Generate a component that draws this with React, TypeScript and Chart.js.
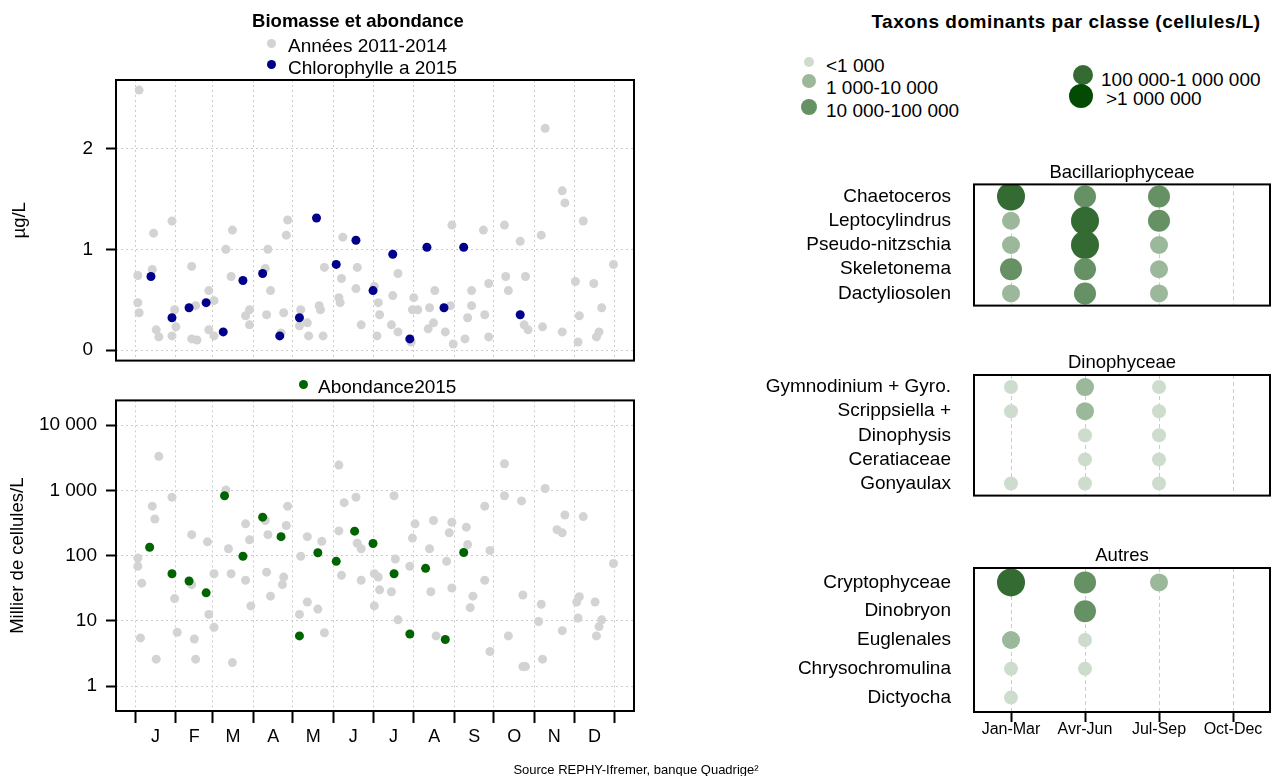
import React, { useEffect, useRef } from 'react';
import { Chart, registerables } from 'chart.js';

Chart.register(...registerables);

const FONT = '"Liberation Sans", Arial, Helvetica, sans-serif';
Chart.defaults.font.family = FONT;
Chart.defaults.color = '#000';

// ---------------- data ----------------
const MONTH_LABELS = ['J', 'F', 'M', 'A', 'M', 'J', 'J', 'A', 'S', 'O', 'N', 'D'];
const MONTH_STARTS = [1, 32, 60, 91, 121, 152, 182, 213, 244, 274, 305, 335, 366];
const MONTH_MIDS = [16.5, 46, 75.5, 106, 136.5, 167, 197.5, 228.5, 259, 289.5, 320, 350.5];

const BIOMASS_TICKS = [0, 1, 2];
const ABUND_TICKS = [1, 10, 100, 1000, 10000];

// [day of year, µg/L]
const CHLORO_2011_2014 = [
  [4, 2.58], [3, 0.74], [14, 0.8], [15, 1.16], [3, 0.47], [4, 0.37], [17, 0.2], [19, 0.13],
  [29, 1.28], [31, 0.4], [32, 0.23], [29, 0.14], [44, 0.83], [47, 0.44], [44, 0.11], [48, 0.1],
  [57, 0.59], [61, 0.49], [57, 0.2], [61, 0.14], [70, 1.0], [75, 1.19], [74, 0.73], [88, 0.4],
  [85, 0.34], [88, 0.25], [102, 1.0], [100, 0.81], [104, 0.59], [101, 0.35], [117, 1.29], [116, 1.14],
  [114, 0.37], [112, 0.17], [127, 0.4], [126, 0.24], [132, 0.27], [133, 0.14], [144, 0.14], [145, 0.82],
  [158, 0.71], [156, 0.52], [157, 0.47], [159, 1.12], [170, 0.82], [169, 0.61], [173, 0.25], [141, 0.44],
  [142, 0.4],
  [313, 2.2], [326, 1.58], [328, 1.46], [342, 1.28], [242, 1.24], [266, 1.19], [282, 1.24], [294, 1.08],
  [310, 1.14], [365, 0.85], [201, 0.76], [183, 0.63], [186, 0.47], [187, 0.35], [185, 0.14], [197, 0.54],
  [196, 0.25], [201, 0.18], [213, 0.52], [212, 0.4], [216, 0.4], [211, 0.08], [225, 0.42], [229, 0.59],
  [228, 0.27], [224, 0.21], [237, 0.18], [241, 0.44], [243, 0.06], [254, 0.32], [257, 0.59], [257, 0.44],
  [252, 0.11], [267, 0.35], [270, 0.66], [270, 0.13], [283, 0.73], [285, 0.59], [298, 0.73], [297, 0.25],
  [300, 0.2], [311, 0.23], [326, 0.18], [336, 0.68], [350, 0.66], [339, 0.34], [338, 0.08], [356, 0.42],
  [354, 0.18], [352, 0.13],
];

const CHLORO_2015 = [
  [13, 0.73], [29, 0.32], [42, 0.42], [55, 0.47], [68, 0.18], [83, 0.69], [98, 0.76], [111, 0.14],
  [126, 0.32], [139, 1.31], [154, 0.85], [169, 1.09], [182, 0.59], [197, 0.95], [210, 0.11], [223, 1.02],
  [236, 0.42], [251, 1.02], [294, 0.35],
];

// [day of year, milliers de cellules/L]
const ABUND_2011_2014 = [
  [19, 3330], [3, 92], [3, 69], [6, 38], [5, 5.5], [14, 575], [16, 365], [17, 2.6], [29, 790], [31, 22],
  [33, 6.7], [44, 210], [44, 36], [46, 5.3], [47, 2.6], [56, 163], [61, 53], [57, 12.6], [61, 8], [70, 1020],
  [72, 128], [74, 53], [75, 2.3], [85, 308], [88, 175], [85, 42], [89, 17], [100, 346], [102, 210], [101, 56],
  [104, 24], [117, 575], [116, 290], [114, 47], [113, 36], [132, 196], [127, 98], [132, 19.5], [126, 12.6],
  [143, 166], [140, 15.2], [145, 6.6], [156, 2450], [160, 650], [156, 240], [158, 50], [169, 790], [170, 155],
  [173, 128], [173, 42],
  [198, 830], [214, 308], [212, 186], [228, 346], [242, 325], [240, 224], [253, 274], [254, 148], [267, 575],
  [271, 120], [282, 2570], [282, 830], [295, 692], [313, 1070], [328, 420], [322, 251], [326, 224], [342, 398],
  [365, 76], [199, 89], [225, 128], [210, 69], [238, 82], [183, 53], [186, 47], [187, 30], [196, 28], [183, 17],
  [226, 28], [242, 32], [267, 42], [258, 24], [256, 16], [201, 10.4], [230, 5.9], [271, 3.4], [296, 25], [310, 18],
  [308, 9.8], [285, 5.9], [298, 2.0], [296, 2.0], [311, 2.6], [326, 7.1], [339, 23.5], [337, 19.5], [338, 11.1],
  [351, 19.5], [356, 10.4], [354, 8.2], [352, 5.9],
];

const ABUND_2015 = [
  [12, 135], [29, 53], [42, 41], [55, 27], [69, 830], [83, 98], [98, 390], [112, 196], [126, 5.9],
  [140, 111], [154, 82], [168, 238], [182, 154], [198, 53], [210, 6.3], [222, 64], [237, 5.2], [251, 112],
];

// Dominant taxa: abundance class per quarter (0 = none, 1..5 = class)
const QUARTERS = ['Jan-Mar', 'Avr-Jun', 'Jul-Sep', 'Oct-Dec'];
const CLASS_LABELS = ['<1 000', '1 000-10 000', '10 000-100 000', '100 000-1 000 000', '>1 000 000'];
const CLASS_COLORS = ['#cedccd', '#9bb89b', '#659165', '#336b33', '#034b03'];
const CLASS_RADII = [7, 9, 11, 14, 16];

const BACILLARIO_TAXA = ['Chaetoceros', 'Leptocylindrus', 'Pseudo-nitzschia', 'Skeletonema', 'Dactyliosolen'];
const BACILLARIO_CLASSES = [
  [4, 3, 3, 0],
  [2, 4, 3, 0],
  [2, 4, 2, 0],
  [3, 3, 2, 0],
  [2, 3, 2, 0],
];
const DINO_TAXA = ['Gymnodinium + Gyro.', 'Scrippsiella +', 'Dinophysis', 'Ceratiaceae', 'Gonyaulax'];
const DINO_CLASSES = [
  [1, 2, 1, 0],
  [1, 2, 1, 0],
  [0, 1, 1, 0],
  [0, 1, 1, 0],
  [1, 1, 1, 0],
];
const AUTRES_TAXA = ['Cryptophyceae', 'Dinobryon', 'Euglenales', 'Chrysochromulina', 'Dictyocha'];
const AUTRES_CLASSES = [
  [4, 3, 2, 0],
  [0, 3, 0, 0],
  [2, 1, 0, 0],
  [1, 1, 0, 0],
  [1, 0, 0, 0],
];

// ---------------- styles ----------------
const GRID = '#cccccc';
const GREY_PT = '#d3d3d3';
const BLUE_PT = '#00008b';
const GREEN_PT = '#006400';

const boxPlugin = {
  id: 'boxFrame',
  afterDatasetsDraw(chart: any) {
    const { ctx, chartArea: a } = chart;
    ctx.save();
    ctx.setLineDash([]);
    ctx.strokeStyle = '#000';
    ctx.lineWidth = 2;
    ctx.strokeRect(a.left, a.top, a.right - a.left, a.bottom - a.top);
    ctx.restore();
  },
};

const fmtThousands = (v: number) => String(v).replace(/\B(?=(\d{3})+(?!\d))/g, ' ');

function seasonalConfig(opts: {
  hist: number[][];
  current: number[][];
  currentColor: string;
  log: boolean;
  showX: boolean;
  padTop: number;
  xHeight: number;
  yTitle: string;
  yTitlePad: number;
  yLabelPad: number;
}) {
  const isStart = (v: any) => MONTH_STARTS.includes(v);
  const xTicks = opts.showX
    ? [...MONTH_STARTS, ...MONTH_MIDS].sort((a, b) => a - b)
    : MONTH_STARTS;
  const yTicks = opts.log ? ABUND_TICKS : BIOMASS_TICKS;
  return {
    type: 'scatter',
    data: {
      datasets: [
        {
          label: 'current',
          data: opts.current.map(([x, y]) => ({ x, y })),
          backgroundColor: opts.currentColor,
          pointRadius: 4.5,
          pointBorderWidth: 0,
          order: 0,
        },
        {
          label: 'hist',
          data: opts.hist.map(([x, y]) => ({ x, y })),
          backgroundColor: GREY_PT,
          pointRadius: 4.5,
          pointBorderWidth: 0,
          order: 1,
        },
      ],
    },
    options: {
      responsive: false,
      animation: false,
      events: [],
      layout: { autoPadding: false, padding: { top: opts.padTop, right: 6, left: 0, bottom: 0 } },
      plugins: { legend: { display: false }, tooltip: { enabled: false } },
      scales: {
        x: {
          type: 'linear',
          bounds: 'data',
          min: -13.6,
          max: 380.6,
          afterBuildTicks: (s: any) => {
            s.ticks = xTicks.map((v) => ({ value: v }));
          },
          afterFit: (s: any) => {
            s.height = opts.xHeight;
          },
          grid: {
            color: (c: any) => (c.tick && isStart(c.tick.value) ? GRID : 'rgba(0,0,0,0)'),
            lineWidth: 1,
            drawTicks: opts.showX,
            tickLength: 12,
            tickWidth: 2,
            tickColor: (c: any) => (c.tick && isStart(c.tick.value) ? '#000' : 'rgba(0,0,0,0)'),
            tickBorderDash: [],
          },
          border: { display: false, dash: [2, 3] },
          ticks: {
            display: opts.showX,
            autoSkip: false,
            maxRotation: 0,
            minRotation: 0,
            padding: 3,
            color: '#000',
            font: { size: 18 },
            callback: (v: any) => {
              const i = MONTH_MIDS.indexOf(v);
              return i >= 0 ? MONTH_LABELS[i] : '';
            },
          },
        },
        y: {
          type: opts.log ? 'logarithmic' : 'linear',
          bounds: 'data',
          min: opts.log ? 0.417 : -0.105,
          max: opts.log ? 23990 : 2.68,
          afterBuildTicks: (s: any) => {
            s.ticks = yTicks.map((v) => ({ value: v }));
          },
          afterFit: (s: any) => {
            s.width = 116;
          },
          grid: {
            color: GRID,
            lineWidth: 1,
            drawTicks: true,
            tickLength: 10,
            tickWidth: 2,
            tickColor: '#000',
            tickBorderDash: [],
          },
          border: { display: false, dash: [2, 3] },
          ticks: {
            autoSkip: false,
            padding: opts.yLabelPad,
            color: '#000',
            font: { size: 19 },
            callback: (v: any) => fmtThousands(v),
          },
          title: {
            display: true,
            text: opts.yTitle,
            color: '#000',
            font: { size: 18.5 },
            padding: { top: opts.yTitlePad, bottom: 0 },
          },
        },
      },
    },
    plugins: [boxPlugin],
  };
}

function taxaConfig(opts: {
  taxa: string[];
  classes: number[][];
  showX: boolean;
  padTop: number;
  xHeight: number;
}) {
  const points: any[] = [];
  opts.classes.forEach((row, i) =>
    row.forEach((c, j) => {
      if (c > 0) points.push({ x: j + 1, y: i + 1, c });
    })
  );
  return {
    type: 'scatter',
    data: {
      datasets: [
        {
          label: 'taxa',
          data: points,
          pointRadius: (ctx: any) => (ctx.raw ? CLASS_RADII[ctx.raw.c - 1] : 0),
          backgroundColor: (ctx: any) => (ctx.raw ? CLASS_COLORS[ctx.raw.c - 1] : 'transparent'),
          pointBorderWidth: 0,
        },
      ],
    },
    options: {
      responsive: false,
      animation: false,
      events: [],
      layout: { autoPadding: false, padding: { top: opts.padTop, right: 4, left: 0, bottom: 0 } },
      plugins: { legend: { display: false }, tooltip: { enabled: false } },
      scales: {
        x: {
          type: 'linear',
          bounds: 'data',
          min: 0.5,
          max: 4.5,
          afterBuildTicks: (s: any) => {
            s.ticks = QUARTERS.map((_, i) => ({ value: i + 1 }));
          },
          afterFit: (s: any) => {
            s.height = opts.xHeight;
          },
          grid: {
            color: GRID,
            lineWidth: 1,
            drawTicks: opts.showX,
            tickLength: 10,
            tickWidth: 2,
            tickColor: '#000',
            tickBorderDash: [],
          },
          border: { display: false, dash: [4, 3] },
          ticks: {
            display: opts.showX,
            autoSkip: false,
            maxRotation: 0,
            minRotation: 0,
            padding: 0,
            color: '#000',
            font: { size: 16, lineHeight: 1 },
            callback: (v: any) => QUARTERS[v - 1] ?? '',
          },
        },
        y: {
          type: 'linear',
          bounds: 'data',
          reverse: true,
          min: 0.5,
          max: 5.5,
          afterBuildTicks: (s: any) => {
            s.ticks = opts.taxa.map((_, i) => ({ value: i + 1 }));
          },
          afterFit: (s: any) => {
            s.width = 214;
          },
          grid: { display: false, drawTicks: false },
          border: { display: false },
          ticks: {
            autoSkip: false,
            padding: 23,
            color: '#000',
            font: { size: 19 },
            callback: (v: any) => opts.taxa[v - 1] ?? '',
          },
        },
      },
    },
    plugins: [boxPlugin],
  };
}

// ---------------- components ----------------
function ChartCanvas({ left, top, width, height, make }: any) {
  const ref = useRef<HTMLCanvasElement>(null);
  useEffect(() => {
    const chart = new Chart(ref.current as HTMLCanvasElement, make());
    return () => chart.destroy();
  }, []);
  return (
    <canvas
      ref={ref}
      width={width}
      height={height}
      style={{ position: 'absolute', left, top, width, height }}
    />
  );
}

function Txt({ x, y, children, size = 19, bold = false, anchor = 'left', spacing = 0 }: any) {
  const tx = anchor === 'center' ? '-50%' : anchor === 'right' ? '-100%' : '0';
  return (
    <div
      style={{
        position: 'absolute',
        left: x,
        top: y,
        transform: `translate(${tx}, -50%)`,
        fontFamily: FONT,
        fontSize: size,
        fontWeight: bold ? 'bold' : 'normal',
        lineHeight: 1,
        whiteSpace: 'nowrap',
        letterSpacing: spacing,
        color: '#000',
      }}
    >
      {children}
    </div>
  );
}

function Dot({ x, y, r, color }: any) {
  return (
    <div
      style={{
        position: 'absolute',
        left: x - r,
        top: y - r,
        width: 2 * r,
        height: 2 * r,
        borderRadius: '50%',
        background: color,
      }}
    />
  );
}

export default function App() {
  const legendPos = [
    { dx: 809, dy: 62, r: 5, tx: 826, ty: 65 },
    { dx: 809, dy: 81, r: 7, tx: 826, ty: 87 },
    { dx: 809, dy: 107, r: 8, tx: 826, ty: 110 },
    { dx: 1083, dy: 75, r: 10, tx: 1101, ty: 79 },
    { dx: 1081, dy: 96, r: 12, tx: 1106, ty: 98 },
  ];
  return (
    <div
      style={{
        position: 'absolute',
        left: 0,
        top: 0,
        width: 1274,
        height: 776,
        background: '#fff',
        overflow: 'hidden',
        fontFamily: FONT,
      }}
    >
      <ChartCanvas
        left={0}
        top={0}
        width={640}
        height={385}
        make={() =>
          seasonalConfig({
            hist: CHLORO_2011_2014,
            current: CHLORO_2015,
            currentColor: BLUE_PT,
            log: false,
            showX: false,
            padTop: 80,
            xHeight: 15,
            yTitle: 'µg/L',
            yTitlePad: 9,
            yLabelPad: 13,
          })
        }
      />
      <ChartCanvas
        left={0}
        top={380}
        width={640}
        height={396}
        make={() =>
          seasonalConfig({
            hist: ABUND_2011_2014,
            current: ABUND_2015,
            currentColor: GREEN_PT,
            log: true,
            showX: true,
            padTop: 18,
            xHeight: 65,
            yTitle: 'Millier de cellules/L',
            yTitlePad: 7,
            yLabelPad: 9,
          })
        }
      />
      <ChartCanvas
        left={760}
        top={150}
        width={514}
        height={190}
        make={() =>
          taxaConfig({ taxa: BACILLARIO_TAXA, classes: BACILLARIO_CLASSES, showX: false, padTop: 33, xHeight: 13 })
        }
      />
      <ChartCanvas
        left={760}
        top={340}
        width={514}
        height={190}
        make={() => taxaConfig({ taxa: DINO_TAXA, classes: DINO_CLASSES, showX: false, padTop: 35, xHeight: 13 })}
      />
      <ChartCanvas
        left={760}
        top={530}
        width={514}
        height={246}
        make={() =>
          taxaConfig({ taxa: AUTRES_TAXA, classes: AUTRES_CLASSES, showX: true, padTop: 38, xHeight: 64 })
        }
      />

      {/* left panel titles & legends */}
      <Txt x={358} y={21} size={18.5} bold anchor="center">
        Biomasse et abondance
      </Txt>
      <Dot x={271} y={43} r={4.5} color={GREY_PT} />
      <Txt x={288} y={45}>Années 2011-2014</Txt>
      <Dot x={271} y={64} r={4.5} color={BLUE_PT} />
      <Txt x={288} y={67}>Chlorophylle a 2015</Txt>
      <Dot x={303} y={384} r={4.5} color={GREEN_PT} />
      <Txt x={318} y={386}>Abondance2015</Txt>

      {/* right panel titles & legend */}
      <Txt x={1066} y={21} size={19} bold anchor="center" spacing={0.5}>
        Taxons dominants par classe (cellules/L)
      </Txt>
      {CLASS_LABELS.map((lab, i) => (
        <React.Fragment key={lab}>
          <Dot x={legendPos[i].dx} y={legendPos[i].dy} r={legendPos[i].r} color={CLASS_COLORS[i]} />
          <Txt x={legendPos[i].tx} y={legendPos[i].ty}>
            {lab}
          </Txt>
        </React.Fragment>
      ))}
      <Txt x={1122} y={172} size={18.5} anchor="center">
        Bacillariophyceae
      </Txt>
      <Txt x={1122} y={362} size={18.5} anchor="center">
        Dinophyceae
      </Txt>
      <Txt x={1122} y={555} size={18.5} anchor="center">
        Autres
      </Txt>

      <Txt x={636} y={769} size={13} anchor="center">
        Source REPHY-Ifremer, banque Quadrige²
      </Txt>
    </div>
  );
}
